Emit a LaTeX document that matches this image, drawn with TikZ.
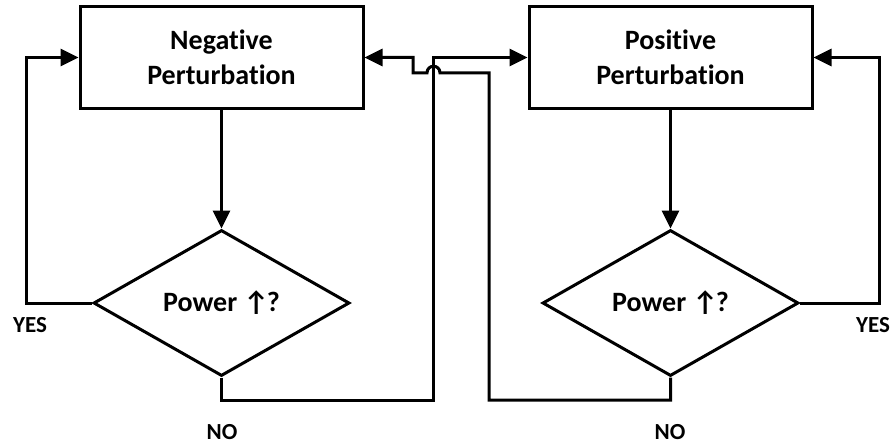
\documentclass[tikz,border=0pt]{standalone}
\usepackage{fontspec}
\setmainfont{Carlito}[Ligatures={NoCommon,NoRare}]
\usetikzlibrary{shapes.geometric,arrows.meta}
\begin{document}
\begin{tikzpicture}[x=1pt,y=-1pt,
  flow/.style={line width=3pt},
  arrow/.style={flow,-{Triangle[length=18pt,width=17pt]}},
  stepbox/.style={draw,flow,rectangle,minimum width=283pt,minimum height=101pt,
    inner sep=0pt,align=center,font=\fontsize{28}{35}\selectfont\bfseries},
  decision/.style={draw,flow,diamond,shape aspect=1.75,minimum width=256pt,
    minimum height=146pt,inner sep=0pt,font=\fontsize{28}{35}\selectfont\bfseries},
  tag/.style={font=\fontsize{23}{27}\selectfont\bfseries}]
  \useasboundingbox (0,0) rectangle (892,444);

  % process boxes
  \node[stepbox] (negbox) at (221.5,57.5) {Negative\\Perturbation};
  \node[stepbox] (posbox) at (670.5,57.5) {Positive\\Perturbation};

  % decisions
  \node[decision] (negdia) at (221.5,303) {Power ↑\kern-2pt?};
  \node[decision] (posdia) at (670.5,303) {Power ↑\kern-2pt?};

  % routing points
  \coordinate (yl) at (26,303);
  \coordinate (yr) at (879,303);
  \coordinate (nl) at (433,400);
  \coordinate (nr) at (489,400);
  \coordinate (jr) at (489,73);
  \coordinate (hr) at (440,73);
  \coordinate (hl) at (427,73);
  \coordinate (jl) at (413,73);

  % box to decision
  \draw[arrow] (negbox.south) -- (negdia.north);
  \draw[arrow] (posbox.south) -- (posdia.north);

  % YES loops
  \draw[arrow] (negdia.west) -- (yl) |- (negbox.west);
  \draw[arrow] (posdia.east) -- (yr) |- (posbox.east);

  % NO branches, crossing over in the middle
  \draw[arrow] (negdia.south) |- (nl) |- (posbox.west);
  \draw[arrow] (posdia.south) |- (nr) -- (jr) -- (hr)
     .. controls +(0,-9) and +(0,-9) .. (hl) -- (jl) |- (negbox.east);

  % branch labels
  \node[tag] (yesl) at (30,325) {YES};
  \node[tag] (yesr) at (873,325) {YES};
  \node[tag] (nol) at (222,432) {NO};
  \node[tag] (nor) at (670,432) {NO};
\end{tikzpicture}
\end{document}
